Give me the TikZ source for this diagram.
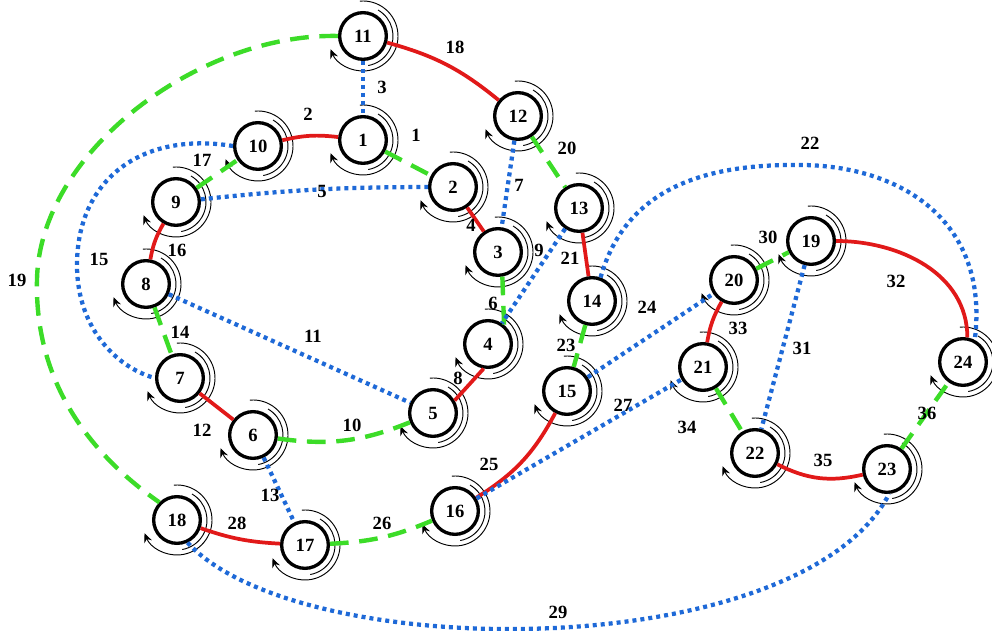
\documentclass[tikz,border=0pt]{standalone}
\usepackage{fontspec}
\setmainfont{Liberation Serif}
\usetikzlibrary{arrows.meta}
\definecolor{er}{RGB}{225,25,25}
\definecolor{eg}{RGB}{60,220,40}
\definecolor{eb}{RGB}{30,105,215}
\begin{document}
\begin{tikzpicture}[x=0.75pt,y=0.75pt,
  vtx/.style={circle,draw=black,line width=2.5pt,minimum size=35pt,inner sep=0pt,font=\bfseries\fontsize{14}{15}\selectfont},
  elab/.style={font=\bfseries\fontsize{14}{15}\selectfont,inner sep=0pt},
  redE/.style={draw=er,line width=2.8pt},
  greenE/.style={draw=eg,line width=3.3pt,dash pattern=on 14pt off 8pt},
  blueE/.style={draw=eb,line width=3.2pt,dash pattern=on 3pt off 3pt},
  ring/.style={line width=0.7pt,draw=black}]
\useasboundingbox (0,0) rectangle (992,631);
% vertices
\foreach \n/\x/\y in {1/363/491, 2/453/444, 3/498/379, 4/488/287, 5/433/218, 6/253/196,
  7/180/253, 8/146/347, 9/176/429, 10/258/485, 11/363/595, 12/518/515, 13/579/423,
  14/592/330, 15/567/240, 16/455/120, 17/305/86, 18/177/111, 19/811/390, 20/734/351,
  21/703/264, 22/755/178, 23/887/162, 24/963/269}
  {\node[vtx] (n\n) at (\x,\y) {\n};}
% rings with arrows
\foreach \n in {1,...,24}{
  \draw[ring] (n\n.center) ++(60:22.5pt) arc[start angle=60,end angle=-80,radius=22.5pt];
  \draw[ring,-{Stealth[length=7pt,width=6pt]}] (n\n.center) ++(95:26.25pt) arc[start angle=95,end angle=-158,radius=26.25pt];
}
% edges
\draw[greenE] (n1) -- (n2);
\draw[redE] (n10) to[bend left=10] (n1);
\draw[blueE] (n11) -- (n1);
\draw[redE] (n2) -- (n3);
\draw[blueE] (n9) to[bend left=3] (n2);
\draw[greenE] (n3.-80) -- (n4.50);
\draw[blueE] (n12) -- (n3);
\draw[redE] (n4.-100) -- (n5.30);
\draw[blueE] (n13) -- (n4);
\draw[greenE] (n6) to[bend right=15] (n5);
\draw[blueE] (n8) -- (n5);
\draw[redE] (n7) -- (n6);
\draw[blueE] (n6) -- (n17);
\draw[greenE] (n8) -- (n7);
\draw[blueE] (n10.west) .. controls (140,500) and (77,450) .. (77,366) .. controls (77,300) and (120,262) .. (n7.west);
\draw[redE] (n8) to[bend left=10] (n9);
\draw[greenE] (n9) -- (n10);
\draw[redE] (n11) to[bend left=12] (n12);
\draw[greenE] (n11.west) .. controls (200,598) and (40,480) .. (37,352) .. controls (34,240) and (100,170) .. (n18.north west);
\draw[greenE] (n12) -- (n13);
\draw[redE] (n13) -- (n14);
\draw[blueE] (n14.70) .. controls (625,440) and (700,466) .. (793,466) .. controls (900,468) and (990,410) .. (n24.62);
\draw[greenE] (n14) -- (n15);
\draw[blueE] (n15) -- (n20);
\draw[redE] (n15) to[bend left=15] (n16);
\draw[greenE] (n17) to[bend right=10] (n16);
\draw[blueE] (n16) -- (n21);
\draw[redE] (n18) to[bend right=8] (n17);
\draw[blueE] (n18.-65) .. controls (300,-34) and (800,-34) .. (n23.-85);
\draw[greenE] (n20) -- (n19);
\draw[blueE] (n19) -- (n22);
\draw[redE] (n19.east) to[out=0,in=90] (n24.80);
\draw[redE] (n20) to[bend right=10] (n21);
\draw[greenE] (n21) -- (n22);
\draw[redE] (n22) to[bend right=20] (n23);
\draw[greenE] (n23) -- (n24);
% edge labels
\foreach \n/\x/\y in {1/416/496, 2/308/517, 3/382/544, 4/471/406, 5/322/440, 6/493/328,
  7/519/446, 8/458/253, 9/539/381, 10/352/206, 11/313/295, 12/202/201, 13/270/136,
  14/180/299, 15/99/372, 16/177/381, 17/202/471, 18/455/584, 19/17/351, 20/567/483,
  21/570/373, 22/810/488, 23/566/286, 24/647/324, 25/489/167, 26/382/108, 27/623/226,
  28/237/108, 29/558/19, 30/768/394, 31/802/283, 32/896/350, 33/738/303, 34/687/204,
  35/823/171, 36/927/218}
  {\node[elab] (l\n) at (\x,\y) {\n};}
\end{tikzpicture}
\end{document}
